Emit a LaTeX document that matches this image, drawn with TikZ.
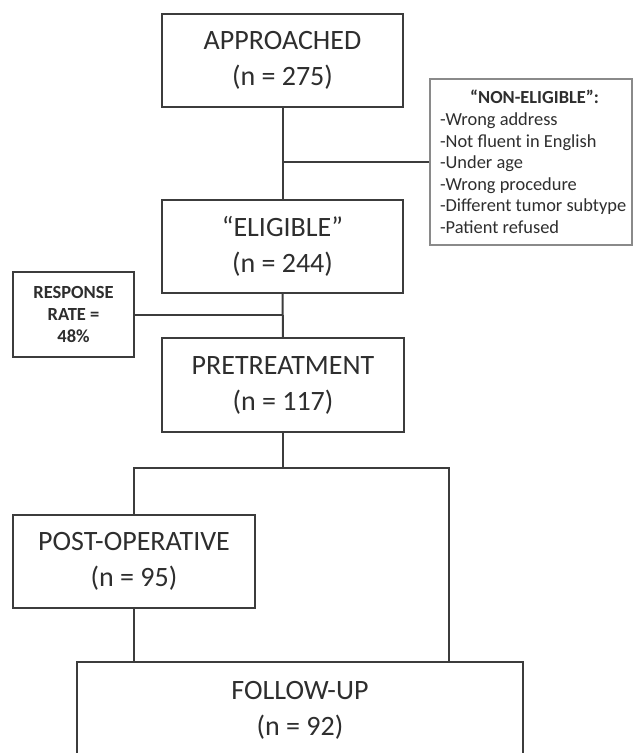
\documentclass[tikz,border=0pt]{standalone}
\usepackage{fontspec}
\setmainfont{Carlito}
\definecolor{linegray}{HTML}{3C3C3C}
\definecolor{textgray}{HTML}{2E2E2E}
\definecolor{lightframe}{HTML}{8A8A8A}
\begin{document}
\begin{tikzpicture}[x=1pt,y=-1pt,
  mainbox/.style={draw=linegray, line width=2pt, text=textgray, align=center,
    minimum width=241pt, minimum height=93pt, inner sep=0pt,
    font=\fontsize{28}{36}\selectfont},
  notebox/.style={draw=lightframe, line width=1.3pt, text=textgray, align=flush left,
    minimum width=202pt, minimum height=166pt, inner sep=0pt, text width=196pt,
    font=\fontsize{18.4}{21.6}\selectfont},
  ratebox/.style={draw=linegray, line width=1.6pt, text=textgray, align=center,
    minimum width=121pt, minimum height=85pt, inner sep=0pt,
    font=\bfseries\fontsize{18.5}{22}\selectfont},
  link/.style={draw=linegray, line width=2pt}]
\clip (0,0) rectangle (634,753);
\fill[white] (0,0) rectangle (634,753);

\node[mainbox] (appr) at (282.5,60.5) {APPROACHED\\(n = 275)};
\node[mainbox] (elig) at (282.5,246) {“ELIGIBLE”\\(n = 244)};
\node[mainbox, minimum width=242pt, minimum height=94pt] (pre) at (283,385) {PRETREATMENT\\(n = 117)};
\node[mainbox, minimum width=242pt] (post) at (134,561.5) {POST-OPERATIVE\\(n = 95)};
\node[mainbox, minimum width=446pt, minimum height=96pt] (fup) at (300,710) {FOLLOW-UP\\(n = 92)};
\node[notebox] (non) at (531,162) {\hspace*{7pt}\hfill\textbf{“NON-ELIGIBLE”:}\hfill\null\\
\hspace*{7pt}-Wrong address\\\hspace*{7pt}-Not fluent in English\\\hspace*{7pt}-Under age\\\hspace*{7pt}-Wrong procedure\\\hspace*{7pt}-Different tumor subtype\\\hspace*{7pt}-Patient refused};
\node[ratebox] (rate) at (73.5,314.5) {RESPONSE\\RATE =\\48\%};

\coordinate (j1) at (appr.south |- non.west);
\coordinate (j2) at (elig.south |- rate.east);
\coordinate (split) at (283,468);
\coordinate (sl) at (post.north |- split);
\coordinate (sr) at (449,468);
\coordinate (fr) at (449,662);
\coordinate (fl) at (post.south |- fup.north);

\draw[link] (appr.south) -- (elig.north);
\draw[link] (j1) -- (non.west);
\draw[link] (elig.south) -- (pre.north);
\draw[link] (rate.east) -- (j2);
\draw[link] (pre.south) -- (split);
\draw[link] (post.north) -- (sl) -- (sr) -- (fr);
\draw[link] (post.south) -- (fl);
\end{tikzpicture}
\end{document}
